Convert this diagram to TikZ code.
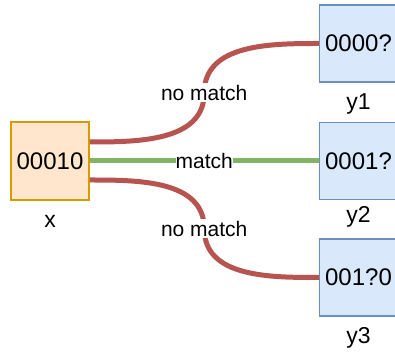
\documentclass[tikz,border=0pt]{standalone}
\usepackage{fontspec}
\setmainfont{Liberation Sans}
\usetikzlibrary{positioning, calc}

\definecolor{xfill}{HTML}{FFE6CC}
\definecolor{xline}{HTML}{D79B00}
\definecolor{yfill}{HTML}{DAE8FC}
\definecolor{yline}{HTML}{6C8EBF}
\definecolor{badline}{HTML}{B85450}
\definecolor{goodline}{HTML}{82B366}

\begin{document}
\begin{tikzpicture}[
  x=1pt, y=1pt,
  word/.style={rectangle, draw=xline, fill=xfill, line width=1.5pt, minimum width=78pt, minimum height=78pt, inner sep=0pt, font=\fontsize{24}{28}\selectfont},
  pattern/.style={word, draw=yline, fill=yfill, minimum height=77pt},
  tag/.style={inner sep=0pt, text height=16pt, text depth=5pt, font=\fontsize{23}{27}\selectfont},
  elabel/.style={fill=white, inner xsep=0pt, inner ysep=2pt, font=\fontsize{21}{25}\selectfont},
  nomatch/.style={draw=badline, line width=5pt},
  hit/.style={draw=goodline, line width=5pt},
  node distance=39pt and 229pt
]
\useasboundingbox (0,0) rectangle (395,358);

\node[word] (x) at (50,197) {00010};
\node[pattern, right=of x] (y2) {0001?};
\node[pattern, above=of y2] (y1) {0000?};
\node[pattern, below=38pt of y2] (y3) {001?0};

\node[tag, below=11pt of x] (xname) {x};
\node[tag, below=11pt of y1] (y1name) {y1};
\node[tag, below=6pt of y2] (y2name) {y2};
\node[tag, below=11pt of y3] (y3name) {y3};

% edges from x to the patterns
\coordinate (a1) at ([yshift=19pt]x.east);
\coordinate (a3) at ([yshift=-19pt]x.east);
\coordinate (m1) at ($(a1)!0.5!(y1.west)$);
\coordinate (m3) at ($(a3)!0.5!(y3.west)$);

\draw[nomatch] (a1) to[out=0, in=-90] (m1) node[elabel] (l1) {no match} to[out=90, in=180] (y1.west);
\draw[hit] (x) -- node[elabel] (l2) {match} (y2);
\draw[nomatch] (a3) to[out=0, in=90] (m3) node[elabel] (l3) {no match} to[out=-90, in=180] (y3.west);
\end{tikzpicture}
\end{document}
